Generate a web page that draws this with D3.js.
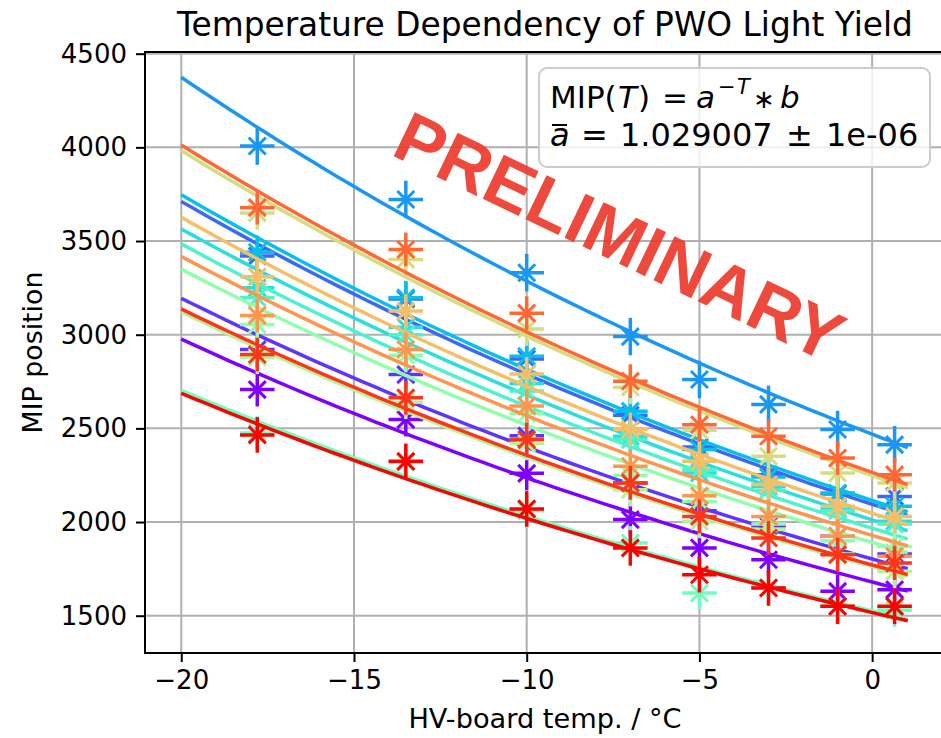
<!DOCTYPE html>
<html>
<head>
<meta charset="utf-8">
<script src="https://cdn.jsdelivr.net/npm/d3@7"></script>
<style>
  body { margin: 0; background: #fff; overflow: hidden; }
  svg { display: block; font-family: "DejaVu Sans", sans-serif; }
</style>
</head>
<body>
<div id="chart"></div>
<script>
// measurement temperatures (HV-board), one column of points each
const temps = [-17.8, -13.5, -10, -7, -5, -3, -1, 0.65];
const xTicks = [-20, -15, -10, -5, 0];
const yTicks = [1500, 2000, 2500, 3000, 3500, 4000, 4500];

// fit MIP(T) = a^-T * b, common a, one b per channel (value at T = 0)
const fitA = 1.029007;
const fitRange = [-20, 1.03];
const fitB = [1680, 1803, 2095, 2469, 2115, 2012, 1967, 1526,
              1891, 1762, 2248, 2047, 1929, 2265, 1771, 1517];

// MIP positions per channel, same order as temps
const mipPoints = [
  [2707, 2547, 2260, 2013, 1862, 1799, 1630, 1639],
  [2921, 2787, 2460, 2209, 2060, 1980, 1924, 1830],
  [3420, 3190, 2870, 2570, 2400, 2253, 2150, 2137],
  [4007, 3722, 3331, 2990, 2761, 2628, 2494, 2413],
  [3440, 3197, 2885, 2592, 2387, 2240, 2155, 2084],
  [3250, 3040, 2740, 2458, 2262, 2190, 2070, 2004],
  [3197, 3000, 2700, 2440, 2280, 2170, 2060, 1990],
  [2475, 2320, 2060, 1888, 1621, 1650, 1550, 1530],
  [3054, 2890, 2580, 2250, 2110, 1990, 1900, 1870],
  [2880, 2640, 2420, 2173, 2004, 1960, 1830, 1737],
  [3650, 3402, 3030, 2720, 2490, 2351, 2262, 2209],
  [3309, 3126, 2790, 2494, 2324, 2200, 2084, 2030],
  [3103, 2921, 2620, 2298, 2140, 2030, 1924, 1817],
  [3678, 3455, 3115, 2752, 2520, 2458, 2342, 2253],
  [2894, 2663, 2440, 2209, 2030, 1915, 1826, 1781],
  [2465, 2324, 2070, 1862, 1719, 1648, 1550, 1550]
];
const yErr = [90, 90, 90, 100, 90, 90, 90, 90, 90, 90, 90, 90, 90, 90, 90, 95];
const xErr = 0.5;

// matplotlib "rainbow" colormap sampled at 16 steps
const colors = ["#8000ff", "#5e35fe", "#3b68f9", "#1a96f3", "#09bee9", "#2bdddd",
                "#4df3ce", "#6efebe", "#91feab", "#b3f396", "#d5dd80", "#f7be68",
                "#ff964f", "#ff6835", "#ff351b", "#ff0000"];

const width = 941, height = 738;
const plot = { left: 145, top: 52, right: 950, bottom: 653 };

const svg = d3.select("#chart")
  .append("svg")
  .attr("width", width)
  .attr("height", height);

const x = d3.scaleLinear().domain([-21.05, 2.08]).range([plot.left, 944]);
const y = d3.scaleLinear().domain([1301, 4509]).range([plot.bottom, plot.top]);

svg.append("defs").append("clipPath").attr("id", "clip")
  .append("rect")
  .attr("x", plot.left).attr("y", plot.top)
  .attr("width", plot.right - plot.left).attr("height", plot.bottom - plot.top);

// grid
const grid = svg.append("g");
grid.selectAll(".gx").data(xTicks).enter().append("line")
  .attr("x1", d => x(d)).attr("x2", d => x(d))
  .attr("y1", plot.top).attr("y2", plot.bottom)
  .style("stroke", "#b0b0b0").style("stroke-width", 2);
grid.selectAll(".gy").data(yTicks).enter().append("line")
  .attr("x1", plot.left).attr("x2", plot.right)
  .attr("y1", d => y(d)).attr("y2", d => y(d))
  .style("stroke", "#b0b0b0").style("stroke-width", 2);

// channels
const lineGen = d3.line().x(d => x(d[0])).y(d => y(d[1]));
const data = svg.append("g").attr("clip-path", "url(#clip)");

mipPoints.forEach((pts, i) => {
  const g = data.append("g");
  const c = colors[i];
  pts.forEach((v, j) => {
    const px = x(temps[j]), py = y(v);
    // vertical error bar
    g.append("line")
      .attr("x1", px).attr("x2", px)
      .attr("y1", y(v - yErr[i])).attr("y2", y(v + yErr[i]))
      .style("stroke", c).style("stroke-width", 3.5);
    // horizontal error bar
    g.append("line")
      .attr("x1", x(temps[j] - xErr)).attr("x2", x(temps[j] + xErr))
      .attr("y1", py).attr("y2", py)
      .style("stroke", c).style("stroke-width", 3.5);
    // x marker
    const m = 8.5;
    g.append("path")
      .attr("d", `M${px - m},${py - m}L${px + m},${py + m}M${px - m},${py + m}L${px + m},${py - m}`)
      .style("stroke", c).style("stroke-width", 3);
  });
  const curve = d3.range(0, 61).map(k => {
    const t = fitRange[0] + (fitRange[1] - fitRange[0]) * k / 60;
    return [t, fitB[i] * Math.pow(fitA, -t)];
  });
  g.append("path")
    .attr("d", lineGen(curve))
    .style("fill", "none")
    .style("stroke", c)
    .style("stroke-width", 3.5);
});

// axes
const xAxis = svg.append("g")
  .attr("transform", `translate(0, ${plot.bottom})`)
  .call(d3.axisBottom(x).tickValues(xTicks).tickSize(9).tickPadding(9));
const yAxis = svg.append("g")
  .attr("transform", `translate(${plot.left}, 0)`)
  .call(d3.axisLeft(y).tickValues(yTicks).tickSize(9).tickPadding(9).tickFormat(d3.format("d")));
[xAxis, yAxis].forEach(a => {
  a.select(".domain").remove();
  a.selectAll("line").style("stroke", "#000").style("stroke-width", 2);
  a.selectAll("text")
    .style("font-family", "DejaVu Sans, sans-serif")
    .style("font-size", "26px")
    .style("fill", "#000");
});

// spines
svg.append("rect")
  .attr("x", plot.left).attr("y", plot.top)
  .attr("width", plot.right - plot.left).attr("height", plot.bottom - plot.top)
  .style("fill", "none").style("stroke", "#000").style("stroke-width", 2);

// labels
svg.append("text")
  .attr("x", 545)
  .attr("y", 36)
  .attr("text-anchor", "middle")
  .style("font-size", "32.8px")
  .text("Temperature Dependency of PWO Light Yield");

svg.append("text")
  .attr("x", 545)
  .attr("y", 728)
  .attr("text-anchor", "middle")
  .style("font-size", "27.2px")
  .text("HV-board temp. / °C");

svg.append("text")
  .attr("transform", `translate(42, ${(plot.top + plot.bottom) / 2}) rotate(-90)`)
  .attr("text-anchor", "middle")
  .style("font-size", "26.8px")
  .text("MIP position");

// fit info box
svg.append("rect")
  .attr("x", 539).attr("y", 68)
  .attr("width", 391).attr("height", 99)
  .attr("rx", 8)
  .style("fill", "#fff").style("fill-opacity", 0.8)
  .style("stroke", "#cccccc").style("stroke-width", 2);

const box = svg.append("g").style("font-size", "32px");
const put = (txt, px, py, opts = {}) => box.append("text")
  .attr("x", px).attr("y", py)
  .style("font-style", opts.italic ? "italic" : "normal")
  .style("font-size", opts.size || null)
  .text(txt);
put("MIP(", 550, 108, { size: "31px" });
put("T", 618, 108, { italic: true, size: "31px" });
put(")", 638, 108, { size: "31px" });
put("=", 662, 108, { size: "31px" });
put("a", 696, 108, { italic: true, size: "31px" });
put("\u2212", 718, 94, { size: "21px" });
put("T", 737, 94, { italic: true, size: "21px" });
put("\u2217", 753, 108, { size: "26px" });
put("b", 780, 108, { italic: true, size: "31px" });

put("a", 550, 146, { italic: true });
box.append("line")
  .attr("x1", 552).attr("x2", 567).attr("y1", 125).attr("y2", 125)
  .style("stroke", "#000").style("stroke-width", 2);
put("=", 581, 146);
put("1.029007", 620, 146);
put("\u00b1", 786, 146);
put("1e-06", 826, 146);

// watermark
svg.append("text")
  .attr("transform", "translate(609, 259) rotate(25.5)")
  .attr("text-anchor", "middle")
  .style("font-family", "Liberation Sans, Arial, sans-serif")
  .style("font-weight", "bold")
  .style("font-size", "71px")
  .style("fill", "#ec3b2c")
  .style("fill-opacity", 0.92)
  .text("PRELIMINARY");
</script>
</body>
</html>
